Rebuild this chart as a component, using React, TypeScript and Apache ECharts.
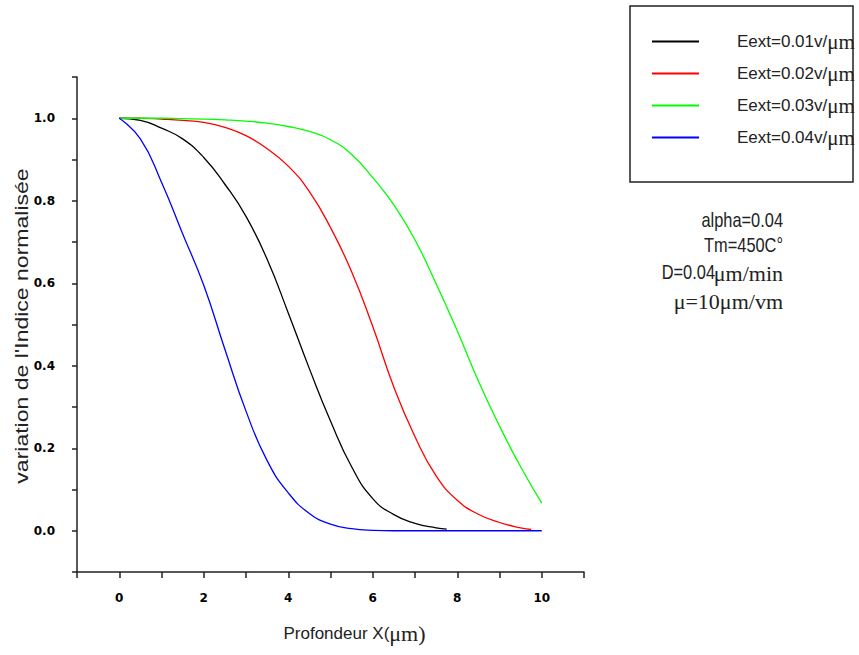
import React, { useEffect, useRef } from "react";
import * as echarts from "echarts";

// ---- data ----
const seriesNames = ["Eext=0.01v/μm", "Eext=0.02v/μm", "Eext=0.03v/μm", "Eext=0.04v/μm"];
const seriesColors = ["#000000", "#ff0000", "#00ff00", "#0000ff"];

const xBlack = [0, 0.5, 1, 1.5, 2, 2.5, 3, 3.5, 4, 4.5, 5, 5.5, 6, 6.5, 7, 7.5, 7.75];
const yBlack = [1.0, 0.995, 0.976, 0.95, 0.905, 0.84, 0.762, 0.658, 0.528, 0.393, 0.266, 0.155, 0.078, 0.039, 0.018, 0.007, 0.004];

const xRed = [0, 0.5, 1, 1.5, 2, 2.5, 3, 3.5, 4, 4.5, 5, 5.5, 6, 6.5, 7, 7.5, 8, 8.5, 9, 9.5, 9.75];
const yRed = [1.0, 1.0, 0.998, 0.995, 0.99, 0.978, 0.958, 0.926, 0.884, 0.822, 0.735, 0.628, 0.495, 0.348, 0.228, 0.133, 0.074, 0.04, 0.02, 0.007, 0.003];

const xGreen = [0, 0.5, 1, 1.5, 2, 2.5, 3, 3.5, 4, 4.5, 5, 5.5, 6, 6.5, 7, 7.5, 8, 8.5, 9, 9.5, 10];
const yGreen = [1.0, 1.0, 1.0, 0.999, 0.998, 0.996, 0.993, 0.988, 0.98, 0.968, 0.948, 0.912, 0.856, 0.79, 0.705, 0.599, 0.485, 0.363, 0.254, 0.155, 0.067];

const xBlue = [0, 0.5, 1, 1.5, 2, 2.5, 3, 3.5, 4, 4.5, 5, 5.5, 6, 6.5, 7, 7.5, 8, 8.5, 9, 9.5, 10];
const yBlue = [1.0, 0.95, 0.845, 0.72, 0.595, 0.44, 0.29, 0.17, 0.092, 0.042, 0.016, 0.005, 0.001, 0, 0, 0, 0, 0, 0, 0, 0];

const yAxisTitle = "variation de l'Indice normalisée";
const annotations = ["alpha=0.04", "Tm=450C°", "D=0.04", "μm/min", "μ=10μm/vm"];

const SERIF = "'Liberation Serif', 'DejaVu Serif', serif";
const SANS = "'Liberation Sans', Arial, sans-serif";

function pairs(xs: number[], ys: number[]) {
  return xs.map((x, i) => [x, ys[i]]);
}

export default function App() {
  const ref = useRef<HTMLDivElement>(null);
  useEffect(() => {
    if (!ref.current) return;
    const chart = echarts.init(ref.current, null, { renderer: "svg" });
    const xsList = [xBlack, xRed, xGreen, xBlue];
    const ysList = [yBlack, yRed, yGreen, yBlue];
    const tickLabel = {
      fontFamily: "'DejaVu Sans', sans-serif",
      fontWeight: "bold" as const,
      fontSize: 12,
      color: "#000",
    };
    chart.setOption({
      animation: false,
      backgroundColor: "#ffffff",
      grid: { left: 77, right: 275, top: 77, bottom: 83, containLabel: false },
      legend: {
        show: true,
        orient: "vertical",
        left: 652,
        top: 31,
        padding: 0,
        icon: "rect",
        itemWidth: 47,
        itemHeight: 2,
        itemGap: 11,
        data: seriesNames,
        formatter: (name: string) => `{a|${name.replace("μm", "")}}{b|μm}`,
        textStyle: {
          color: "#222",
          rich: {
            a: { fontFamily: SANS, fontSize: 17, lineHeight: 24, padding: [0, 0, 0, 33], color: "#222" },
            b: { fontFamily: SERIF, fontSize: 21, lineHeight: 24, color: "#222" },
          },
        },
      },
      xAxis: {
        type: "value",
        min: -1,
        max: 11,
        interval: 1,
        name: "{a|Profondeur X(}{b|μm)}",
        nameLocation: "middle",
        nameGap: 50,
        nameTextStyle: {
          padding: [0, 0, 0, 48],
          rich: {
            a: { fontFamily: SANS, fontSize: 17, color: "#222" },
            b: { fontFamily: SERIF, fontSize: 22, color: "#222" },
          },
        },
        axisLine: { show: true, onZero: false, lineStyle: { color: "#222", width: 1.5 } },
        axisTick: { show: true, inside: false, length: 6, lineStyle: { color: "#222", width: 1.5 } },
        axisLabel: {
          ...tickLabel,
          margin: 20,
          formatter: (v: number) => (Math.round(v) % 2 === 0 && v >= 0 && v <= 10 ? String(Math.round(v)) : ""),
        },
        splitLine: { show: false },
      },
      yAxis: {
        type: "value",
        min: -0.1,
        max: 1.1,
        interval: 0.1,
        axisLine: { show: true, onZero: false, lineStyle: { color: "#222", width: 1.5 } },
        axisTick: { show: true, inside: false, length: 5, lineStyle: { color: "#222", width: 1.5 } },
        axisLabel: {
          ...tickLabel,
          margin: 22,
          formatter: (v: number) => {
            const k = Math.round(v * 10);
            return k % 2 === 0 && k >= 0 && k <= 10 ? (k / 10).toFixed(1) : "";
          },
        },
        splitLine: { show: false },
      },
      series: seriesNames.map((name, i) => ({
        name,
        type: "line",
        data: pairs(xsList[i], ysList[i]),
        showSymbol: false,
        symbol: "none",
        smooth: true,
        lineStyle: { color: seriesColors[i], width: 1.3 },
        itemStyle: { color: seriesColors[i] },
      })),
      graphic: [
        {
          type: "rect",
          shape: { x: 630, y: 6, width: 223, height: 176 },
          style: { fill: "none", stroke: "#222", lineWidth: 1.5 },
          silent: true,
        },
        {
          type: "text",
          x: 21,
          y: 326,
          rotation: Math.PI / 2,
          scaleX: 1.28,
          style: { text: yAxisTitle, align: "center", verticalAlign: "middle", font: `18px ${SANS}`, fill: "#222" },
        },
        {
          type: "text",
          x: 783,
          y: 220,
          scaleX: 0.82,
          style: { text: annotations[0], align: "right", verticalAlign: "middle", font: `20px ${SANS}`, fill: "#222" },
        },
        {
          type: "text",
          x: 783,
          y: 245,
          scaleX: 0.82,
          style: { text: annotations[1], align: "right", verticalAlign: "middle", font: `20px ${SANS}`, fill: "#222" },
        },
        {
          type: "text",
          x: 715,
          y: 272,
          scaleX: 0.82,
          style: { text: annotations[2], align: "right", verticalAlign: "middle", font: `20px ${SANS}`, fill: "#222" },
        },
        {
          type: "text",
          x: 783,
          y: 273,
          style: { text: annotations[3], align: "right", verticalAlign: "middle", font: `22px ${SERIF}`, fill: "#222" },
        },
        {
          type: "text",
          x: 783,
          y: 301,
          style: { text: annotations[4], align: "right", verticalAlign: "middle", font: `22px ${SERIF}`, fill: "#222" },
        },
      ],
    });
    return () => chart.dispose();
  }, []);
  return <div ref={ref} style={{ position: "absolute", left: 0, top: 0, width: 859, height: 655 }} />;
}
